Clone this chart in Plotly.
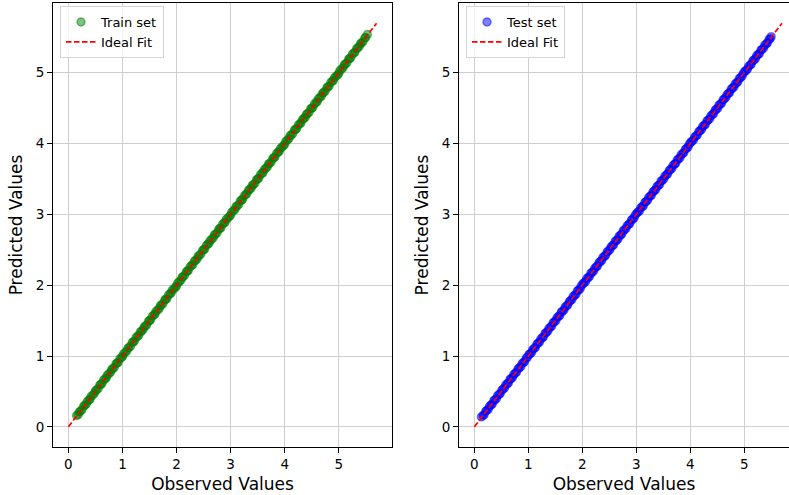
import plotly.graph_objects as go

# ---------------- data ----------------
train_obs = [
    0.15, 0.18, 0.20, 0.22, 0.25, 0.28, 0.30, 0.33, 0.35, 0.38, 0.40, 0.42, 0.45, 0.48, 0.50, 0.52, 0.55,
    0.58, 0.60, 0.62, 0.65, 0.68, 0.70, 0.72, 0.75, 0.78, 0.80, 0.82, 0.85, 0.88, 0.90, 0.92, 0.95, 0.98,
    1.00, 1.02, 1.05, 1.08, 1.10, 1.12, 1.15, 1.18, 1.20, 1.22, 1.25, 1.28, 1.30, 1.33, 1.35, 1.38, 1.40, 1.42, 1.45, 1.48,
    1.50, 1.52, 1.55, 1.58, 1.60, 1.62, 1.65, 1.68, 1.70, 1.72, 1.75, 1.78, 1.80, 1.82, 1.85, 1.88, 1.90, 1.92, 1.95, 1.98,
    2.00, 2.02, 2.05, 2.08, 2.10, 2.12, 2.15, 2.18, 2.20, 2.22, 2.25, 2.28, 2.30, 2.33, 2.35, 2.38, 2.40, 2.42, 2.45, 2.48,
    2.50, 2.52, 2.55, 2.58, 2.60, 2.62, 2.65, 2.68, 2.70, 2.72, 2.75, 2.78, 2.80, 2.82, 2.85, 2.88, 2.90, 2.92, 2.95, 2.98,
    3.00, 3.02, 3.05, 3.08, 3.10, 3.12, 3.15, 3.18, 3.20, 3.22, 3.25, 3.28, 3.30, 3.33, 3.35, 3.38, 3.40, 3.42, 3.45, 3.48,
    3.50, 3.52, 3.55, 3.58, 3.60, 3.62, 3.65, 3.68, 3.70, 3.72, 3.75, 3.78, 3.80, 3.82, 3.85, 3.88, 3.90, 3.92, 3.95, 3.98,
    4.00, 4.02, 4.05, 4.08, 4.10, 4.12, 4.15, 4.18, 4.20, 4.22, 4.25, 4.28, 4.30, 4.33, 4.35, 4.38, 4.40, 4.42, 4.45, 4.48,
    4.50, 4.52, 4.55, 4.58, 4.60, 4.62, 4.65, 4.68, 4.70, 4.72, 4.75, 4.78, 4.80, 4.82, 4.85, 4.88, 4.90, 4.92, 4.95, 4.98,
    5.00, 5.02, 5.05, 5.08, 5.10, 5.12, 5.15, 5.18, 5.20, 5.22, 5.25, 5.28, 5.30, 5.33, 5.35, 5.38, 5.40, 5.42, 5.45, 5.48,
    5.50, 5.53,
]
train_pred = [
    0.16, 0.17, 0.21, 0.22, 0.24, 0.29, 0.30, 0.32, 0.36, 0.38, 0.39, 0.43, 0.45, 0.47, 0.51, 0.52, 0.54,
    0.59, 0.60, 0.61, 0.66, 0.68, 0.69, 0.73, 0.75, 0.77, 0.81, 0.82, 0.84, 0.89, 0.90, 0.91, 0.96, 0.98,
    0.99, 1.03, 1.05, 1.07, 1.11, 1.12, 1.14, 1.19, 1.20, 1.21, 1.26, 1.28, 1.29, 1.34, 1.35, 1.37, 1.41, 1.42, 1.44, 1.49,
    1.50, 1.51, 1.56, 1.58, 1.59, 1.63, 1.65, 1.67, 1.71, 1.72, 1.74, 1.79, 1.80, 1.81, 1.86, 1.88, 1.89, 1.93, 1.95, 1.97,
    1.99, 2.03, 2.05, 2.07, 2.11, 2.12, 2.14, 2.19, 2.20, 2.21, 2.26, 2.28, 2.29, 2.34, 2.35, 2.37, 2.41, 2.42, 2.44, 2.49,
    2.50, 2.51, 2.56, 2.58, 2.59, 2.63, 2.65, 2.67, 2.71, 2.72, 2.74, 2.79, 2.80, 2.81, 2.86, 2.88, 2.89, 2.93, 2.95, 2.97,
    2.99, 3.03, 3.05, 3.07, 3.11, 3.12, 3.14, 3.19, 3.20, 3.21, 3.26, 3.28, 3.29, 3.34, 3.35, 3.37, 3.41, 3.42, 3.44, 3.49,
    3.50, 3.51, 3.56, 3.58, 3.59, 3.63, 3.65, 3.67, 3.71, 3.72, 3.74, 3.79, 3.80, 3.81, 3.86, 3.88, 3.89, 3.93, 3.95, 3.97,
    3.99, 4.03, 4.05, 4.07, 4.11, 4.12, 4.14, 4.19, 4.20, 4.21, 4.26, 4.28, 4.29, 4.34, 4.35, 4.37, 4.41, 4.42, 4.44, 4.49,
    4.50, 4.51, 4.56, 4.58, 4.59, 4.63, 4.65, 4.67, 4.71, 4.72, 4.74, 4.79, 4.80, 4.81, 4.86, 4.88, 4.89, 4.93, 4.95, 4.97,
    4.99, 5.03, 5.05, 5.07, 5.11, 5.12, 5.14, 5.19, 5.20, 5.21, 5.26, 5.28, 5.29, 5.34, 5.35, 5.37, 5.41, 5.42, 5.44, 5.49,
    5.50, 5.54,
]

test_obs = [
    0.13, 0.16, 0.18, 0.21, 0.23, 0.26, 0.28, 0.31, 0.33, 0.36, 0.38, 0.41, 0.43, 0.46, 0.48, 0.51, 0.53, 0.56,
    0.58, 0.61, 0.63, 0.66, 0.68, 0.71, 0.73, 0.76, 0.78, 0.81, 0.83, 0.86, 0.88, 0.91, 0.93, 0.96, 0.98,
    1.01, 1.03, 1.06, 1.08, 1.11, 1.13, 1.16, 1.18, 1.21, 1.23, 1.26, 1.28, 1.31, 1.33, 1.36, 1.38, 1.41, 1.43, 1.46, 1.48,
    1.51, 1.53, 1.56, 1.58, 1.61, 1.63, 1.66, 1.68, 1.71, 1.73, 1.76, 1.78, 1.81, 1.83, 1.86, 1.88, 1.91, 1.93, 1.96, 1.98,
    2.01, 2.03, 2.06, 2.08, 2.11, 2.13, 2.16, 2.18, 2.21, 2.23, 2.26, 2.28, 2.31, 2.33, 2.36, 2.38, 2.41, 2.43, 2.46, 2.48,
    2.51, 2.53, 2.56, 2.58, 2.61, 2.63, 2.66, 2.68, 2.71, 2.73, 2.76, 2.78, 2.81, 2.83, 2.86, 2.88, 2.91, 2.93, 2.96, 2.98,
    3.01, 3.03, 3.06, 3.08, 3.11, 3.13, 3.16, 3.18, 3.21, 3.23, 3.26, 3.28, 3.31, 3.33, 3.36, 3.38, 3.41, 3.43, 3.46, 3.48,
    3.51, 3.53, 3.56, 3.58, 3.61, 3.63, 3.66, 3.68, 3.71, 3.73, 3.76, 3.78, 3.81, 3.83, 3.86, 3.88, 3.91, 3.93, 3.96, 3.98,
    4.01, 4.03, 4.06, 4.08, 4.11, 4.13, 4.16, 4.18, 4.21, 4.23, 4.26, 4.28, 4.31, 4.33, 4.36, 4.38, 4.41, 4.43, 4.46, 4.48,
    4.51, 4.53, 4.56, 4.58, 4.61, 4.63, 4.66, 4.68, 4.71, 4.73, 4.76, 4.78, 4.81, 4.83, 4.86, 4.88, 4.91, 4.93, 4.96, 4.98,
    5.01, 5.03, 5.06, 5.08, 5.11, 5.13, 5.16, 5.18, 5.21, 5.23, 5.26, 5.28, 5.31, 5.33, 5.36, 5.38, 5.41, 5.43, 5.46, 5.48,
    5.50,
]
test_pred = [
    0.14, 0.16, 0.17, 0.22, 0.23, 0.25, 0.29, 0.31, 0.32, 0.37, 0.38, 0.40, 0.44, 0.46, 0.47, 0.52, 0.53, 0.55,
    0.59, 0.61, 0.62, 0.67, 0.68, 0.70, 0.74, 0.76, 0.77, 0.82, 0.83, 0.85, 0.89, 0.91, 0.92, 0.97, 0.98,
    1.02, 1.03, 1.05, 1.09, 1.11, 1.12, 1.17, 1.18, 1.20, 1.24, 1.26, 1.27, 1.32, 1.33, 1.35, 1.39, 1.41, 1.42, 1.47, 1.48,
    1.50, 1.54, 1.56, 1.57, 1.62, 1.63, 1.65, 1.69, 1.71, 1.72, 1.77, 1.78, 1.80, 1.84, 1.86, 1.87, 1.92, 1.93, 1.95, 1.99,
    2.02, 2.03, 2.05, 2.09, 2.11, 2.12, 2.17, 2.18, 2.20, 2.24, 2.26, 2.27, 2.32, 2.33, 2.35, 2.39, 2.41, 2.42, 2.47, 2.48,
    2.50, 2.54, 2.56, 2.57, 2.62, 2.63, 2.65, 2.69, 2.71, 2.72, 2.77, 2.78, 2.80, 2.84, 2.86, 2.87, 2.92, 2.93, 2.95, 2.99,
    3.02, 3.03, 3.05, 3.09, 3.11, 3.12, 3.17, 3.18, 3.20, 3.24, 3.26, 3.27, 3.32, 3.33, 3.35, 3.39, 3.41, 3.42, 3.47, 3.48,
    3.50, 3.54, 3.56, 3.57, 3.62, 3.63, 3.65, 3.69, 3.71, 3.72, 3.77, 3.78, 3.80, 3.84, 3.86, 3.87, 3.92, 3.93, 3.95, 3.99,
    4.02, 4.03, 4.05, 4.09, 4.11, 4.12, 4.17, 4.18, 4.20, 4.24, 4.26, 4.27, 4.32, 4.33, 4.35, 4.39, 4.41, 4.42, 4.47, 4.48,
    4.50, 4.54, 4.56, 4.57, 4.62, 4.63, 4.65, 4.69, 4.71, 4.72, 4.77, 4.78, 4.80, 4.84, 4.86, 4.87, 4.92, 4.93, 4.95, 4.99,
    5.02, 5.03, 5.05, 5.09, 5.11, 5.12, 5.17, 5.18, 5.20, 5.24, 5.26, 5.27, 5.32, 5.33, 5.35, 5.39, 5.41, 5.42, 5.47, 5.48,
    5.51,
]

ideal_x = [0.0, 5.7]
ideal_y = [0.0, 5.7]

tick_vals = [0, 1, 2, 3, 4, 5]
tick_text = ["0", "1", "2", "3", "4", "5"]

# ---------------- figure ----------------
FONT = "DejaVu Sans"
GRID = "#cfcfcf"

fig = go.Figure()

fig.add_trace(go.Scatter(
    x=train_obs, y=train_pred, mode="markers", name="Train set",
    marker=dict(color="rgba(0,128,0,0.5)", size=8,
                line=dict(width=1.4, color="rgba(0,128,0,0.5)")),
    xaxis="x", yaxis="y", legend="legend",
))
fig.add_trace(go.Scatter(
    x=ideal_x, y=ideal_y, mode="lines", name="Ideal Fit",
    line=dict(color="red", width=1.7, dash="5.5px,2.5px"),
    xaxis="x", yaxis="y", legend="legend",
))
fig.add_trace(go.Scatter(
    x=test_obs, y=test_pred, mode="markers", name="Test set",
    marker=dict(color="rgba(0,0,255,0.5)", size=8,
                line=dict(width=1.4, color="rgba(0,0,255,0.5)")),
    xaxis="x2", yaxis="y2", legend="legend2",
))
fig.add_trace(go.Scatter(
    x=ideal_x, y=ideal_y, mode="lines", name="Ideal Fit",
    line=dict(color="red", width=1.7, dash="5.5px,2.5px"),
    xaxis="x2", yaxis="y2", legend="legend2",
))

W, H = 789, 495
ydom = [1 - 447 / H, 1 - 3 / H]

common_x = dict(
    tickmode="array", tickvals=tick_vals, ticktext=tick_text,
    ticks="outside", ticklen=5, tickwidth=1, tickcolor="black",
    showline=True, linecolor="black", linewidth=1,
    showgrid=True, gridcolor=GRID, gridwidth=1, zeroline=False,
    automargin=False,
    tickfont=dict(family=FONT, size=13.5, color="black"),
    title=dict(text="Observed Values", font=dict(family=FONT, size=17, color="black"), standoff=6),
)
common_y = dict(
    tickmode="array", tickvals=tick_vals, ticktext=tick_text,
    ticks="outside", ticklen=5, tickwidth=1, tickcolor="black",
    showline=True, linecolor="black", linewidth=1,
    showgrid=True, gridcolor=GRID, gridwidth=1, zeroline=False,
    automargin=False,
    range=[-0.285, 5.985],
    tickfont=dict(family=FONT, size=13.5, color="black"),
    title=dict(text="Predicted Values", font=dict(family=FONT, size=17, color="black"), standoff=8),
)

legend_common = dict(
    xanchor="left", yanchor="top",
    bgcolor="rgba(255,255,255,0.8)", bordercolor="#d5d5d5", borderwidth=1,
    font=dict(family=FONT, size=13, color="black"),
    tracegroupgap=0, itemwidth=30,
)

fig.update_layout(
    width=W, height=H,
    margin=dict(l=0, r=0, t=0, b=0, autoexpand=False),
    paper_bgcolor="white", plot_bgcolor="white",
    font=dict(family=FONT, color="black"),
    showlegend=True,
    xaxis=dict(domain=[53 / W, 392 / W], range=[-0.285, 5.985], anchor="y", mirror=True, **common_x),
    yaxis=dict(domain=ydom, anchor="x", mirror=True, **common_y),
    xaxis2=dict(domain=[459 / W, 1.0], range=[-0.285, 5.83], anchor="y2", mirror=True, **common_x),
    yaxis2=dict(domain=ydom, anchor="x2", mirror=False, **common_y),
    legend=dict(x=60 / W, y=1 - 6 / H, **legend_common),
    legend2=dict(x=466 / W, y=1 - 6 / H, **legend_common),
)

fig.write_html(
    "out.html",
    config={"displayModeBar": False},
    post_script="document.body.style.margin='0';document.body.style.overflow='hidden';",
)
